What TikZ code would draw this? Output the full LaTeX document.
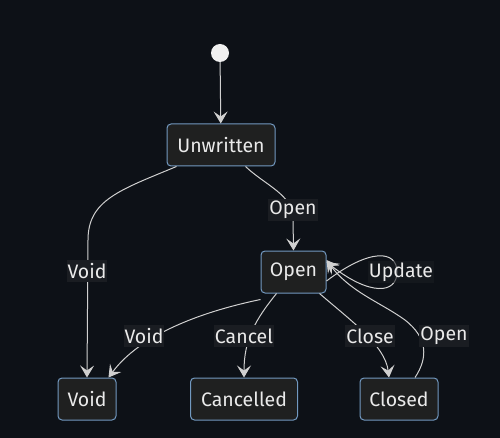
\documentclass[tikz,border=0pt]{standalone}
\usepackage{fontspec}
\setmainfont{Fira Sans}
\usetikzlibrary{arrows.meta}
\definecolor{bg}{HTML}{0D1117}
\definecolor{nodefill}{HTML}{1F2020}
\definecolor{nodeborder}{HTML}{7299C0}
\definecolor{edgecol}{HTML}{D0D0D0}
\definecolor{txt}{HTML}{EAEAEA}
\definecolor{lblbg}{HTML}{1A1D22}
\tikzset{
  state/.style={draw=nodeborder, line width=1pt, fill=nodefill, rounded corners=4pt,
    minimum height=42pt, inner sep=0pt, text=txt, font=\fontsize{19.5}{21}\selectfont},
  startdot/.style={circle, fill=white!94!black, minimum size=18pt, inner sep=0pt},
  edge/.style={draw=edgecol, line width=1pt, -{Stealth[length=12pt,width=14pt,inset=5pt]}},
  lbl/.style={fill=lblbg, inner sep=1pt, minimum height=22pt, text=txt, font=\fontsize{19.5}{21}\selectfont}
}
\begin{document}
\begin{tikzpicture}[x=1pt,y=-1pt]
\fill[bg] (0,0) rectangle (500,438);
\useasboundingbox (0,0) rectangle (500,438);

\node[startdot] (start) at (220,53) {};
\node[state, minimum width=108pt] (unw) at (221,145) {Unwritten};
\node[state, minimum width=65pt] (open) at (293.5,272) {Open};
\node[state, minimum width=58pt] (void) at (87,399) {Void};
\node[state, minimum width=107pt] (canc) at (244,399) {Cancelled};
\node[state, minimum width=78pt] (closed) at (399,399) {Closed};

\coordinate (uvA) at (88,240);
\coordinate (uoA) at (293,218);

\draw[edge] (start) -- (unw);
\draw[edge] ([xshift=10pt]unw.south west) .. controls (120,190) and (88,200) .. (uvA) -- (void.north);
\draw[edge] ([xshift=-30pt]unw.south east) .. controls (265,185) and (293,195) .. (uoA) -- (open.north);
\draw[edge] ([yshift=-9pt]open.east) .. controls (370,248) and (397,250) .. (397,272) .. controls (397,294) and (370,296) .. ([yshift=10pt]open.east);
\draw[edge] ([yshift=-6pt]open.south west) .. controls (200,312) and (140,335) .. ([xshift=-8pt]void.north east);
\draw[edge] ([xshift=16pt]open.south west) .. controls (255,320) and (244,340) .. (canc.north);
\draw[edge] ([xshift=-7pt]open.south east) .. controls (350,320) and (385,345) .. ([xshift=-10pt]closed.north);
\draw[edge] ([xshift=16pt]closed.north) .. controls (428,358) and (428,338) .. (405,320) .. controls (380,302) and (350,292) .. ([yshift=12pt]open.east);

\node[lbl] (l1) at (87,271) {Void};
\node[lbl] (l2) at (293,210) {Open};
\node[lbl, fill opacity=0.6, text opacity=1] (l3) at (401,272) {Update};
\node[lbl] (l4) at (144,336) {Void};
\node[lbl] (l5) at (244,336) {Cancel};
\node[lbl] (l6) at (370,336) {Close};
\node[lbl] (l7) at (444,336) {Open};
\end{tikzpicture}
\end{document}
